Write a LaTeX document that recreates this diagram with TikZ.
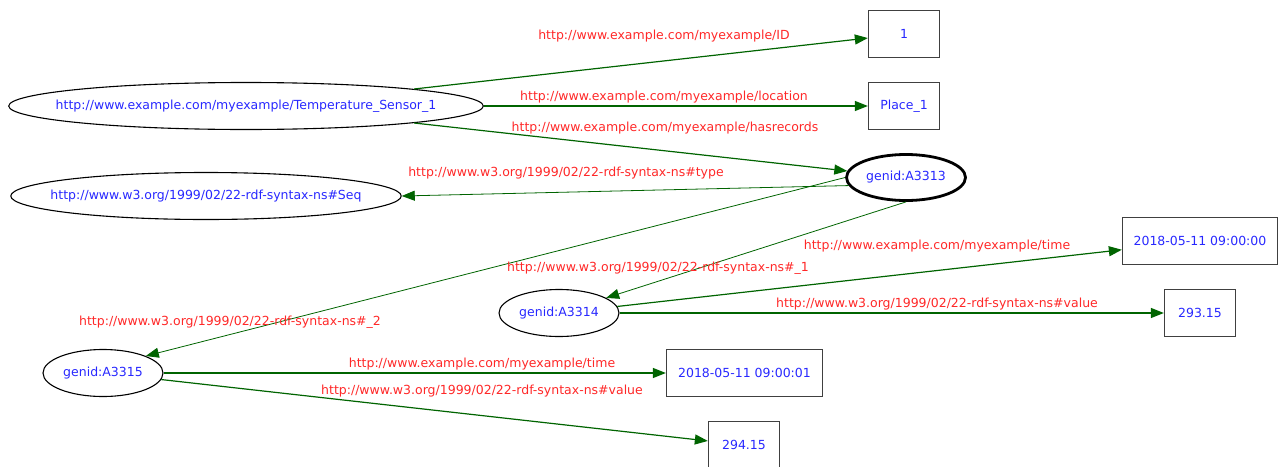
\documentclass[tikz,border=0pt]{standalone}
\usepackage{fontspec}
\setmainfont{DejaVu Sans}
\usetikzlibrary{shapes.geometric,arrows.meta}
\definecolor{relgreen}{RGB}{0,100,0}
\definecolor{resblue}{RGB}{40,40,255}
\definecolor{propred}{RGB}{255,40,40}

\begin{document}
\begin{tikzpicture}[x=1pt,y=-1pt,>={Triangle[length=13pt,width=10pt]},
        every node/.style={font=\fontsize{12.5}{15}\selectfont},
        res/.style={draw,ellipse,inner sep=0pt,line width=1.1pt,text=resblue},
        lit/.style={draw=black!75,rectangle,inner sep=0pt,line width=1.3pt,minimum height=47pt,text=resblue},
        rel/.style={draw=relgreen,line width=1.2pt,->},
        relthin/.style={draw=relgreen,line width=0.8pt,->},
        prop/.style={text=propred}]

        \useasboundingbox (0,0) rectangle (1279,466);

        % resources
        \node[res,inner xsep=-22.5pt,minimum height=47pt] (ts) at (246,106) {http://www.example.com/myexample/Temperature\_Sensor\_1};
        \node[res,inner xsep=-17.5pt,minimum height=47pt] (seq) at (206,196) {http://www.w3.org/1999/02/22-rdf-syntax-ns\#Seq};
        \node[res,line width=2.8pt,minimum width=119pt,minimum height=46pt] (a3313) at (906,177.5) {genid:A3313};
        \node[res,minimum width=120pt,minimum height=47pt] (a3314) at (559,313) {genid:A3314};
        \node[res,minimum width=120pt,minimum height=47pt] (a3315) at (103,373) {genid:A3315};

        % literals
        \node[lit,minimum width=71pt] (one) at (904,34) {1};
        \node[lit,minimum width=71pt] (place) at (904,106) {Place\_1};
        \node[lit,minimum width=155pt] (t1) at (1200,241) {2018-05-11 09:00:00};
        \node[lit,minimum width=71pt] (v1) at (1200,313) {293.15};
        \node[lit,minimum width=156pt] (t2) at (744.5,373) {2018-05-11 09:00:01};
        \node[lit,minimum width=71pt] (v2) at (744,445) {294.15};

        % properties
        \path[rel] (ts.north east) -- (one);
        \path[rel] (ts) -- (place);
        \path[rel] (ts.south east) -- (a3313);
        \path[relthin] (a3313.188) -- (seq.east);
        \path[relthin] (a3313.west) -- (a3315.north east);
        \path[relthin] (a3313.south) -- (a3314);
        \path[rel] (a3314) -- (t1);
        \path[rel] (a3314) -- (v1);
        \path[rel] (a3315) -- (t2);
        \path[rel] (a3315) -- (v2);

        \node[prop] (pid) at (664,36) {http://www.example.com/myexample/ID};
        \node[prop] (ploc) at (664,97) {http://www.example.com/myexample/location};
        \node[prop] (phas) at (665,128) {http://www.example.com/myexample/hasrecords};
        \node[prop] (ptype) at (566,173) {http://www.w3.org/1999/02/22-rdf-syntax-ns\#type};
        \node[prop] (pone) at (658,268) {http://www.w3.org/1999/02/22-rdf-syntax-ns\#\_1};
        \node[prop] (ptwo) at (230,322) {http://www.w3.org/1999/02/22-rdf-syntax-ns\#\_2};
        \node[prop] (ptime1) at (937,246) {http://www.example.com/myexample/time};
        \node[prop] (pval1) at (937,304) {http://www.w3.org/1999/02/22-rdf-syntax-ns\#value};
        \node[prop] (ptime2) at (482,364) {http://www.example.com/myexample/time};
        \node[prop] (pval2) at (482,391) {http://www.w3.org/1999/02/22-rdf-syntax-ns\#value};
      \end{tikzpicture}
\end{document}
